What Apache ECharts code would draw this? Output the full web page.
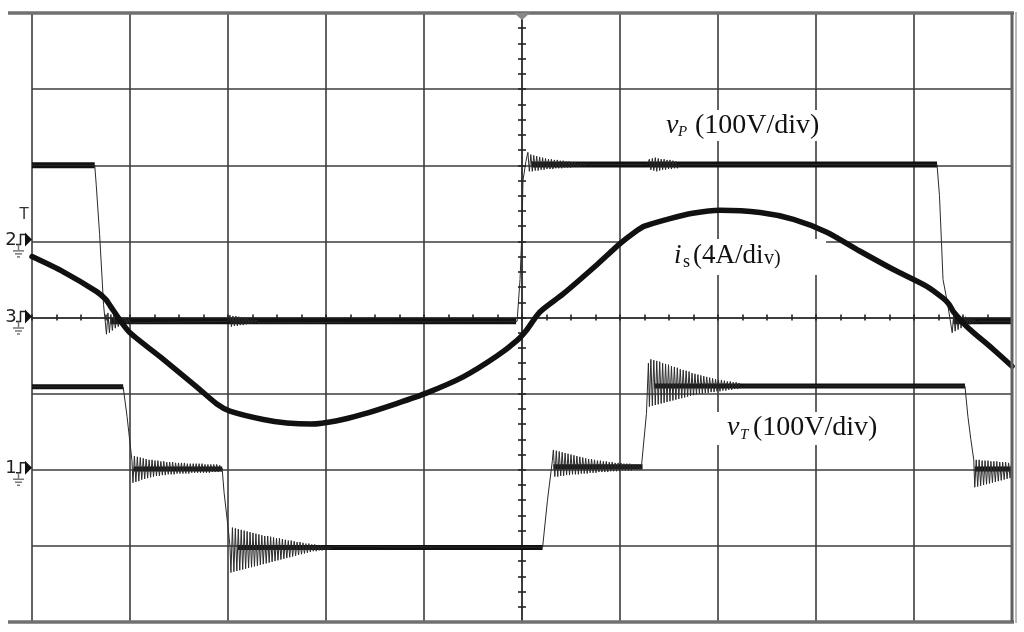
<!DOCTYPE html>
<html><head><meta charset="utf-8">
<script src="https://cdn.jsdelivr.net/npm/echarts@6/dist/echarts.min.js"></script>
<style>html,body{margin:0;padding:0;background:#fff;}#c{width:1024px;height:632px;}</style>
</head><body><div id="c"></div>
<script>
// ---- Data (x in divisions from screen centre, y in divisions from centre) ----
const xRange = [-5, 5];
const yRange = [-4, 4];

// primary current i_s (4A/div)
const isCurve = [[-5.00,0.80],[-4.68,0.60],[-4.34,0.34],[-4.25,0.24],[-4.20,0.15],[-4.10,-0.04],[-4.00,-0.20],
 [-3.66,-0.55],[-3.32,-0.91],[-3.11,-1.14],[-2.98,-1.23],[-2.64,-1.34],[-2.40,-1.385],[-2.15,-1.40],[-1.90,-1.36],
 [-1.62,-1.27],[-1.28,-1.13],[-0.97,-0.99],[-0.60,-0.78],[-0.26,-0.51],[-0.05,-0.30],[0.05,-0.16],[0.18,0.07],
 [0.42,0.31],[0.77,0.70],[1.00,0.97],[1.15,1.12],[1.25,1.20],[1.51,1.30],[1.74,1.37],[2.02,1.41],[2.43,1.38],
 [2.77,1.29],[3.11,1.12],[3.45,0.87],[3.79,0.63],[4.13,0.41],[4.30,0.25],[4.36,0.17],[4.40,0.08],[4.54,-0.12],
 [4.81,-0.42],[5.00,-0.64]];

// Ringing bursts: sampled at a uniform time step (start, step, sampled values)
const vPRing1 = {x0:-4.24, dx:0.015, y:[-0.22,0.06,-0.20,0.04,-0.17,0.03,-0.14,0.02,-0.12,0.01,-0.10,0.0,-0.09,-0.01,-0.08,-0.02,-0.07]};
const vPRing2 = {x0:-2.98, dx:0.015, y:[0.03,-0.12,0.02,-0.11,0.02,-0.11,0.01,-0.10,0.0,-0.10,0.0,-0.09,-0.01,-0.08,-0.02,-0.08,-0.02,-0.07,-0.03,-0.07]};
const vPRing3 = {x0:0.06, dx:0.015, y:[2.17,1.92,2.14,1.92,2.13,1.93,2.12,1.93,2.11,1.94,2.10,1.94,2.09,1.95,2.08,1.95,2.08,1.95,2.07,1.96,
 2.07,1.96,2.06,1.96,2.06,1.97,2.05,1.97,2.05,1.97,2.04,1.98,2.04,1.98,2.03,1.98,2.03,1.99,2.03,1.99,2.02]};
const vPRing4 = {x0:1.30, dx:0.015, y:[2.08,1.94,2.09,1.93,2.10,1.92,2.09,1.93,2.08,1.94,2.08,1.94,2.07,1.95,2.07,1.95,2.06,1.96,2.05,1.96]};
const vPRing5 = {x0:4.39, dx:0.015, y:[-0.20,0.05,-0.18,0.04,-0.16,0.03,-0.14,0.02,-0.12,0.01,-0.10,0.0,-0.09,-0.01,-0.08,-0.02,-0.07]};

const vTRing1 = {x0:-3.97, dx:0.015, y:[-2.17,-1.82,-2.16,-1.83,-2.15,-1.84,-2.13,-1.85,-2.12,-1.86,-2.11,-1.87,-2.10,-1.87,-2.09,-1.88,
 -2.08,-1.88,-2.08,-1.89,-2.07,-1.89,-2.07,-1.90,-2.06,-1.90,-2.06,-1.90,-2.06,-1.91,-2.05,-1.91,-2.05,-1.91,-2.05,-1.91,
 -2.05,-1.92,-2.05,-1.92,-2.04,-1.92,-2.04,-1.92,-2.04,-1.92,-2.04,-1.92,-2.04,-1.93,-2.04,-1.93,-2.04,-1.93,-2.03,-1.93,
 -2.03,-1.93,-2.03,-1.94,-2.02]};
const vTRing2 = {x0:-2.97, dx:0.015, y:[-3.35,-2.76,-3.34,-2.77,-3.33,-2.78,-3.32,-2.79,-3.31,-2.80,-3.30,-2.81,-3.29,-2.82,-3.28,-2.83,
 -3.27,-2.84,-3.26,-2.85,-3.25,-2.86,-3.24,-2.87,-3.23,-2.87,-3.22,-2.88,-3.21,-2.89,-3.20,-2.90,-3.19,-2.90,-3.18,-2.91,
 -3.17,-2.92,-3.16,-2.93,-3.15,-2.93,-3.14,-2.94,-3.13,-2.95,-3.12,-2.95,-3.11,-2.96,-3.10,-2.97,-3.09,-2.97,-3.08,-2.98,
 -3.07,-2.98,-3.07,-2.99,-3.06,-2.99,-3.06,-3.00,-3.05,-3.00,-3.05,-3.00,-3.04,-3.01]};
const vTRing3 = {x0:0.32, dx:0.015, y:[-1.74,-2.09,-1.75,-2.09,-1.76,-2.08,-1.77,-2.08,-1.78,-2.07,-1.79,-2.07,-1.80,-2.06,-1.81,-2.06,
 -1.82,-2.06,-1.83,-2.05,-1.84,-2.05,-1.85,-2.05,-1.86,-2.04,-1.86,-2.04,-1.87,-2.04,-1.88,-2.03,-1.88,-2.03,-1.89,-2.03,
 -1.89,-2.03,-1.90,-2.02,-1.90,-2.02,-1.91,-2.02,-1.91,-2.02,-1.91,-2.01,-1.92,-2.01,-1.92,-2.01,-1.92,-2.01,-1.93,-2.00,
 -1.93,-2.00,-1.93,-2.00,-1.94]};
const vTRing4 = {x0:1.30, dx:0.015, y:[-1.17,-0.55,-1.16,-0.56,-1.15,-0.57,-1.14,-0.58,-1.13,-0.60,-1.12,-0.61,-1.11,-0.62,-1.10,-0.64,
 -1.09,-0.65,-1.08,-0.66,-1.07,-0.68,-1.06,-0.69,-1.05,-0.70,-1.04,-0.71,-1.03,-0.73,-1.02,-0.74,-1.01,-0.75,-1.00,-0.76,
 -1.00,-0.77,-0.99,-0.78,-0.99,-0.79,-0.98,-0.80,-0.98,-0.81,-0.97,-0.82,-0.97,-0.82,-0.96,-0.83,-0.96,-0.84,-0.95,-0.84,
 -0.95,-0.85,-0.94,-0.85,-0.94,-0.86,-0.93]};
const vTRing5 = {x0:4.62, dx:0.015, y:[-2.23,-1.87,-2.22,-1.87,-2.21,-1.88,-2.20,-1.88,-2.19,-1.88,-2.18,-1.89,-2.17,-1.89,-2.16,-1.89,
 -2.15,-1.90,-2.14,-1.90,-2.13,-1.90,-2.12,-1.91,-2.11,-1.91]};

// primary voltage v_P (100V/div): edges and levels, with ringing bursts
const vPPath = [
 [[-5,2.0],[-4.36,2.0],[-4.345,1.75],[-4.31,1.09],[-4.27,0.17]], vPRing1,
 [[-4.00,-0.05],[-3.00,-0.05]], vPRing2,
 [[-2.68,-0.05],[-0.05,-0.05],[-0.02,0.5],[0.0,1.15],[0.01,1.8],[0.04,2.05]], vPRing3,
 [[0.70,2.01],[1.28,2.01]], vPRing4,
 [[1.60,2.01],[4.235,2.01],[4.26,1.6],[4.28,1.0],[4.296,0.5],[4.34,0.2]], vPRing5,
 [[4.66,-0.05],[5.0,-0.05]]];
// v_P steady levels (thick trace)
const vPLevels = [
 [[-5,2.0],[-4.36,2.0]],
 [[-4.2,-0.05],[-0.06,-0.05]],
 [[0.1,2.01],[4.235,2.01]],
 [[4.4,-0.05],[5,-0.05]]];

// transformer voltage v_T (100V/div)
const vTPath = [
 [[-5,-0.91],[-4.07,-0.91],[-4.03,-1.3],[-4.00,-1.65],[-3.98,-1.88]], vTRing1,
 [[-3.06,-1.98],[-3.04,-2.3],[-3.00,-2.75],[-2.98,-3.0]], vTRing2,
 [[-1.92,-3.02],[0.21,-3.02],[0.26,-2.40],[0.31,-1.88]], vTRing3,
 [[1.23,-1.96],[1.27,-1.26],[1.29,-0.6]], vTRing4,
 [[2.25,-0.90],[4.52,-0.90],[4.55,-1.3],[4.58,-1.60],[4.61,-1.87]], vTRing5];
// v_T steady levels (thick trace)
const vTLevels = [
 [[-5,-0.91],[-4.07,-0.91]],
 [[-3.96,-1.99],[-3.06,-1.99]],
 [[-2.9,-3.02],[0.21,-3.02]],
 [[0.32,-1.96],[1.23,-1.96]],
 [[1.35,-0.90],[4.52,-0.90]],
 [[4.62,-1.99],[5,-1.99]]];

// channel ground markers: [label, level in div]
const channelMarkers = [['2', 1.0], ['3', 0.0], ['1', -2.0]];
const triggerLevel = 1.34;

function buildPath(pieces) {
  const out = [];
  pieces.forEach(p => {
    if (Array.isArray(p)) p.forEach(pt => out.push(pt));
    else p.y.forEach((v, i) => out.push([+(p.x0 + i * p.dx).toFixed(4), v]));
  });
  return out;
}

// ---- Chart ----
const GRID = '#3c3c3c';
const chart = echarts.init(document.getElementById('c'), null, {renderer: 'canvas'});

function xAx(i) {
  return {type:'value', min:xRange[0], max:xRange[1], interval:1, position: i ? 'top' : 'bottom',
    axisLine:{show:true, onZero:true, lineStyle:{color:GRID, width:1.6}},
    axisTick:{show:true, length:3, lineStyle:{color:'#222', width:1.6}},
    minorTick:{show:true, splitNumber:4, length:3, lineStyle:{color:'#222', width:1.6}},
    axisLabel:{show:false}, splitLine:{show: i === 0, lineStyle:{color:GRID, width:1.6}}};
}
function yAx(i) {
  return {type:'value', min:yRange[0], max:yRange[1], interval:1, position: i ? 'right' : 'left',
    axisLine:{show:true, onZero:true, lineStyle:{color:GRID, width:1.6}},
    axisTick:{show:true, length:4, lineStyle:{color:'#222', width:1.6}},
    minorTick:{show:true, splitNumber:5, length:4, lineStyle:{color:'#222', width:1.6}},
    axisLabel:{show:false}, splitLine:{show: i === 0, lineStyle:{color:GRID, width:1.6}}};
}

const series = [];
vPLevels.forEach(seg => series.push({type:'line', data:seg, symbol:'none', silent:true, z:3,
  lineStyle:{width:6, color:'#111', cap:'butt'}}));
vTLevels.forEach(seg => series.push({type:'line', data:seg, symbol:'none', silent:true, z:3,
  lineStyle:{width:5, color:'#111', cap:'butt'}}));
series.push({type:'line', name:'vP', data:buildPath(vPPath), symbol:'none', z:4, lineStyle:{width:1, color:'#2a2a2a'}});
series.push({type:'line', name:'vT', data:buildPath(vTPath), symbol:'none', z:4, lineStyle:{width:1, color:'#2a2a2a'}});
series.push({type:'line', name:'is', data:isCurve, smooth:0.25, symbol:'none', z:5,
  lineStyle:{width:5.5, color:'#111', cap:'round', join:'round'}});

chart.setOption({
  animation:false,
  backgroundColor:'#fff',
  grid:{left:32, right:12, top:13, bottom:10, show:false},
  xAxis:[xAx(0), xAx(1)],
  yAxis:[yAx(0), yAx(1)],
  series: series
});

const px = v => chart.convertToPixel({xAxisIndex:0}, v);
const py = v => chart.convertToPixel({yAxisIndex:0}, v);
const g = [];
const R = px(xRange[1]), T = py(yRange[1]), B = py(yRange[0]);
// frame
g.push({type:'line', z:10, shape:{x1:8, y1:T, x2:R+2, y2:T}, style:{stroke:'#707070', lineWidth:3.5}});
g.push({type:'line', z:10, shape:{x1:8, y1:B, x2:R+2, y2:B}, style:{stroke:'#707070', lineWidth:3.5}});
g.push({type:'line', z:10, shape:{x1:R, y1:T, x2:R, y2:B}, style:{stroke:'#606060', lineWidth:3}});
g.push({type:'line', z:10, shape:{x1:R+4, y1:T-1, x2:R+4, y2:B+1}, style:{stroke:'#bbb', lineWidth:2}});
// trigger position marker
const cx = px(0);
g.push({type:'polygon', z:10, shape:{points:[[cx-8,T],[cx+8,T],[cx,T+7]]}, style:{fill:'#888'}});
// trigger level "T"
g.push({type:'text', z:10, x:24, y:py(triggerLevel), style:{text:'T', font:'15px "DejaVu Sans"', fill:'#333',
  align:'center', verticalAlign:'middle', textAlign:'center', textVerticalAlign:'middle'}});
// channel markers
channelMarkers.forEach(([ch, lv]) => {
  const y0 = py(lv) - (lv === 0 ? 0 : 1);
  g.push({type:'text', z:10, x:11, y:y0, style:{text:ch, font:'18px "DejaVu Sans"', fill:'#222',
    align:'center', verticalAlign:'middle', textAlign:'center', textVerticalAlign:'middle'}});
  g.push({type:'polyline', z:10, shape:{points:[[16,y0+4],[20.5,y0+4],[20.5,y0-6],[25,y0-6]]},
    style:{stroke:'#222', lineWidth:1.5, fill:null}});
  g.push({type:'polygon', z:10, shape:{points:[[25,y0-8],[32,y0-1],[25,y0+6]]}, style:{fill:'#111'}});
  g.push({type:'line', z:10, shape:{x1:18.5, y1:y0+4, x2:18.5, y2:y0+10}, style:{stroke:'#777', lineWidth:1.5}});
  g.push({type:'line', z:10, shape:{x1:13, y1:y0+10.5, x2:24, y2:y0+10.5}, style:{stroke:'#777', lineWidth:1.5}});
  g.push({type:'line', z:10, shape:{x1:15, y1:y0+13.5, x2:22, y2:y0+13.5}, style:{stroke:'#777', lineWidth:1.5}});
  g.push({type:'line', z:10, shape:{x1:17, y1:y0+16.5, x2:20, y2:y0+16.5}, style:{stroke:'#777', lineWidth:1.5}});
});

// trace labels (white boxes hide grid lines behind text)
function txt(x, y, s, font) {
  g.push({type:'text', z:11, x:x, y:y, style:{text:s, font:font, fill:'#111',
    align:'left', verticalAlign:'middle', textAlign:'left', textVerticalAlign:'middle'}});
}
const SERIF = '"Liberation Serif", "Times New Roman", serif';
g.push({type:'rect', z:1, shape:{x:641, y:110, width:189, height:31}, style:{fill:'#fff'}});
txt(666, 125.5, 'v', 'italic 28px ' + SERIF);
txt(678, 132, 'P', 'italic 15px ' + SERIF);
txt(695, 125.5, '(100V/div)', '28px ' + SERIF);

g.push({type:'rect', z:1, shape:{x:622, y:239, width:204, height:36}, style:{fill:'#fff'}});
txt(674, 256, 'i', 'italic 27px ' + SERIF);
txt(683, 262, 's', '18px ' + SERIF);
txt(693, 256, '(4A/di', '27px ' + SERIF);
txt(764, 258.5, 'v)', '20px ' + SERIF);

g.push({type:'rect', z:1, shape:{x:712, y:412, width:178, height:33}, style:{fill:'#fff'}});
txt(727, 427.5, 'v', 'italic 28px ' + SERIF);
txt(740, 435, 'T', 'italic 15px ' + SERIF);
txt(753, 427.5, '(100V/div)', '28px ' + SERIF);

chart.setOption({graphic:{elements:g}});
</script></body></html>
